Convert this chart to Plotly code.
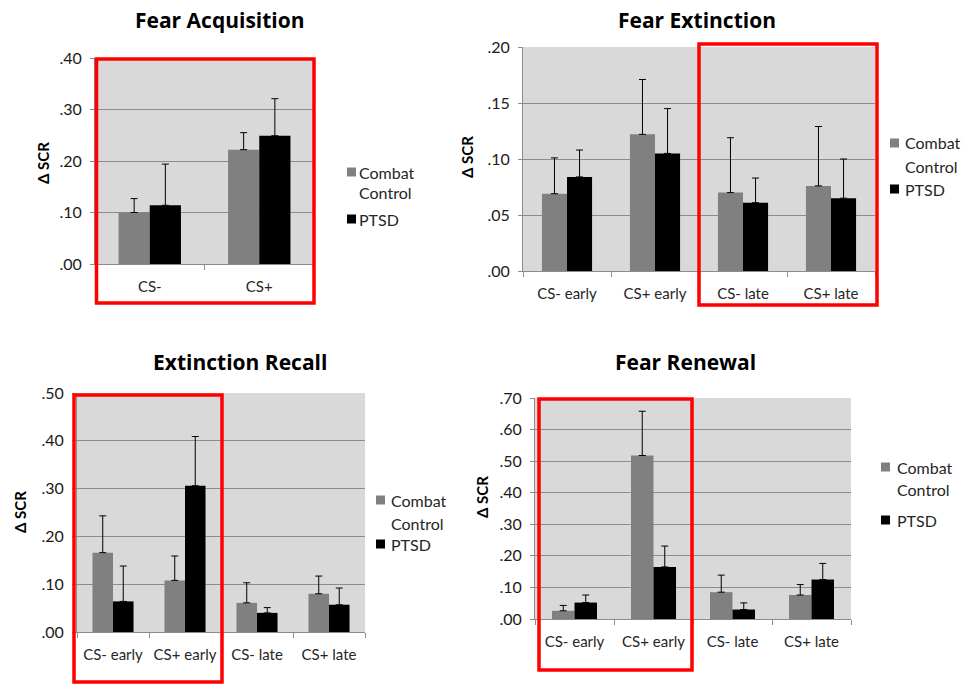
import plotly.graph_objects as go

W, H = 971, 684

# ---------------- data ----------------
acq_title = "Fear Acquisition"
acq_categories = ["CS-", "CS+"]
acq_control = [0.100, 0.222]
acq_control_err = [0.027, 0.033]
acq_ptsd = [0.114, 0.249]
acq_ptsd_err = [0.080, 0.072]
acq_yticks = [0.0, 0.1, 0.2, 0.3, 0.4]
acq_yticktext = [".00", ".10", ".20", ".30", ".40"]

ext_title = "Fear Extinction"
ext_categories = ["CS- early", "CS+ early", "CS- late", "CS+ late"]
ext_control = [0.069, 0.122, 0.070, 0.076]
ext_control_err = [0.032, 0.049, 0.049, 0.053]
ext_ptsd = [0.084, 0.105, 0.061, 0.065]
ext_ptsd_err = [0.024, 0.040, 0.022, 0.035]
ext_yticks = [0.0, 0.05, 0.10, 0.15, 0.20]
ext_yticktext = [".00", ".05", ".10", ".15", ".20"]

rec_title = "Extinction Recall"
rec_categories = ["CS- early", "CS+ early", "CS- late", "CS+ late"]
rec_control = [0.166, 0.108, 0.061, 0.080]
rec_control_err = [0.077, 0.051, 0.042, 0.037]
rec_ptsd = [0.064, 0.306, 0.040, 0.057]
rec_ptsd_err = [0.074, 0.103, 0.011, 0.035]
rec_yticks = [0.0, 0.1, 0.2, 0.3, 0.4, 0.5]
rec_yticktext = [".00", ".10", ".20", ".30", ".40", ".50"]

ren_title = "Fear Renewal"
ren_categories = ["CS- early", "CS+ early", "CS- late", "CS+ late"]
ren_control = [0.026, 0.518, 0.085, 0.076]
ren_control_err = [0.017, 0.140, 0.054, 0.033]
ren_ptsd = [0.052, 0.165, 0.030, 0.125]
ren_ptsd_err = [0.024, 0.066, 0.021, 0.051]
ren_yticks = [0.0, 0.1, 0.2, 0.3, 0.4, 0.5, 0.6, 0.7]
ren_yticktext = [".00", ".10", ".20", ".30", ".40", ".50", ".60", ".70"]

series_names = ["Combat Control", "PTSD"]
legend_lines = [["Combat", "Control"], ["PTSD"]]
y_label = "Δ SCR"

# ---------------- styling / geometry (pixels) ----------------
FONT = "Lato, 'Open Sans', sans-serif"
TITLE_FONT = "'Open Sans', Lato, sans-serif"
GRAY_BAR = "#808080"
BLACK = "#000000"
PLOT_BG = "#d9d9d9"
GRID = "#8c8c8c"
TEXT = "#262626"

panels = [
    dict(title=acq_title, cats=acq_categories, c=acq_control, ce=acq_control_err,
         p=acq_ptsd, pe=acq_ptsd_err, yt=acq_yticks, ytt=acq_yticktext,
         box=(95, 314, 58, 264), title_xy=(220, 20), ylab_xy=(43, 163),
         leg=dict(sq_x=347, tx=357, lines_y=[[172, 192], [219]]),
         red=(96.5, 314, 59, 303)),
    dict(title=ext_title, cats=ext_categories, c=ext_control, ce=ext_control_err,
         p=ext_ptsd, pe=ext_ptsd_err, yt=ext_yticks, ytt=ext_yticktext,
         box=(523, 875, 47, 271), title_xy=(697, 20), ylab_xy=(467, 157),
         leg=dict(sq_x=890, tx=903, lines_y=[[143, 166], [189]]),
         red=(699, 877, 44, 305)),
    dict(title=rec_title, cats=rec_categories, c=rec_control, ce=rec_control_err,
         p=rec_ptsd, pe=rec_ptsd_err, yt=rec_yticks, ytt=rec_yticktext,
         box=(77, 365, 393, 632), title_xy=(240, 362), ylab_xy=(20, 512),
         leg=dict(sq_x=376, tx=389, lines_y=[[500, 523], [544]]),
         red=(74, 222, 395, 682)),
    dict(title=ren_title, cats=ren_categories, c=ren_control, ce=ren_control_err,
         p=ren_ptsd, pe=ren_ptsd_err, yt=ren_yticks, ytt=ren_yticktext,
         box=(535, 851, 398, 619), title_xy=(685, 362), ylab_xy=(482, 497),
         leg=dict(sq_x=881, tx=895, lines_y=[[467, 489], [520]]),
         red=(539, 692, 399, 670)),
]

SQ = 9  # legend swatch size px


def px(x):
    return x / W


def py(y):
    return 1 - y / H


fig = go.Figure()
annotations = []
shapes = []
layout_extra = {}

for i, pn in enumerate(panels):
    n = "" if i == 0 else str(i + 1)
    xa, ya = "x" + n, "y" + n
    x0, x1, y0, y1 = pn["box"]
    colors = [GRAY_BAR, BLACK]
    for name, vals, errs, col in [(series_names[0], pn["c"], pn["ce"], colors[0]),
                                  (series_names[1], pn["p"], pn["pe"], colors[1])]:
        fig.add_trace(go.Bar(
            x=pn["cats"], y=vals, name=name,
            marker=dict(color=col, line=dict(width=0)),
            error_y=dict(type="data", symmetric=False, array=errs,
                         arrayminus=[0] * len(errs), color="#000000",
                         thickness=1, width=3.5),
            xaxis=xa, yaxis=ya, showlegend=False))
    layout_extra["xaxis" + n] = dict(
        domain=[px(x0), px(x1)], anchor=ya, type="category",
        tickson="boundaries", ticks="outside", ticklen=5, tickcolor=GRID,
        showline=True, linecolor=GRID, linewidth=1, showgrid=False,
        tickangle=0, automargin=False, ticklabelstandoff=9,
        tickfont=dict(family=FONT, size=15, color=TEXT), fixedrange=True)
    layout_extra["yaxis" + n] = dict(
        domain=[py(y1), py(y0)], anchor=xa,
        range=[pn["yt"][0], pn["yt"][-1]], tickvals=pn["yt"], ticktext=pn["ytt"],
        ticks="outside", ticklen=4, tickcolor=GRID, automargin=False,
        ticklabelstandoff=5,
        showline=True, linecolor=GRID, linewidth=1,
        showgrid=True, gridcolor=GRID, gridwidth=1, zeroline=False,
        tickfont=dict(family=FONT, size=16, color="#1a1a1a"), fixedrange=True)

    # panel title and y-axis label
    annotations.append(dict(
        text="<b>" + pn["title"] + "</b>", x=px(pn["title_xy"][0]), y=py(pn["title_xy"][1]),
        xref="paper", yref="paper", showarrow=False, xanchor="center", yanchor="middle",
        font=dict(family=TITLE_FONT, size=21, color="#000000")))
    annotations.append(dict(
        text="<b>" + y_label + "</b>", x=px(pn["ylab_xy"][0]), y=py(pn["ylab_xy"][1]),
        xref="paper", yref="paper", showarrow=False, xanchor="center", yanchor="middle",
        textangle=-90, font=dict(family=FONT, size=15, color="#000000")))

    # legend (swatch + text) for this panel
    lg = pn["leg"]
    for s, col in enumerate(colors):
        ys = lg["lines_y"][s]
        shapes.append(dict(type="rect", xref="paper", yref="paper",
                           x0=px(lg["sq_x"]), x1=px(lg["sq_x"] + SQ),
                           y0=py(ys[0] + SQ / 2), y1=py(ys[0] - SQ / 2),
                           line=dict(width=0), fillcolor=col))
        for line_text, yy in zip(legend_lines[s], ys):
            annotations.append(dict(
                text=line_text, x=px(lg["tx"]), y=py(yy), xref="paper", yref="paper",
                showarrow=False, xanchor="left", yanchor="middle",
                font=dict(family=FONT, size=16, color=TEXT)))

    # red highlight frame
    rx0, rx1, ry0, ry1 = pn["red"]
    shapes.append(dict(type="rect", xref="paper", yref="paper",
                       x0=px(rx0), x1=px(rx1), y0=py(ry1), y1=py(ry0),
                       line=dict(color="#ff0000", width=3.5), fillcolor="rgba(0,0,0,0)",
                       layer="above"))

fig.update_layout(
    width=W, height=H, margin=dict(l=0, r=0, t=0, b=0, autoexpand=False),
    paper_bgcolor="#ffffff", plot_bgcolor=PLOT_BG,
    barmode="group", bargap=0.43, bargroupgap=0,
    annotations=annotations, shapes=shapes, showlegend=False,
    font=dict(family=FONT, size=16, color=TEXT),
    **layout_extra)

fig.write_html("out.html",
               config={"displayModeBar": False},
               post_script="document.body.style.margin='0px';"
                           "document.body.style.overflow='hidden';")
